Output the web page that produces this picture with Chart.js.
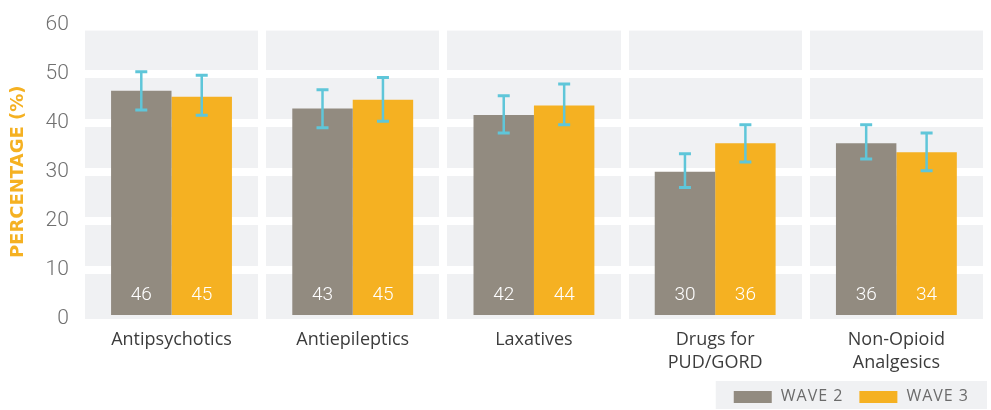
<!DOCTYPE html>
<html lang="en">
<head>
    <meta charset="UTF-8">
    <title>Medication use by wave</title>
    <script src="https://cdn.jsdelivr.net/npm/chart.js"></script>
    <style>
        body { margin: 0; background: #ffffff; }
    </style>
</head>
<body>
    <canvas id="medChart" width="991" height="410"></canvas>

    <script>
        const categories = ["Antipsychotics", "Antiepileptics", "Laxatives", ["Drugs for", "PUD/GORD"], ["Non-Opioid", "Analgesics"]];
        const wave2 = [46.5, 42.9, 41.6, 30.0, 35.8];
        const wave3 = [45.3, 44.7, 43.5, 35.8, 34.0];
        const wave2Labels = [46, 43, 42, 30, 36];
        const wave3Labels = [45, 45, 44, 36, 34];
        const wave2Low = [42.6, 39.0, 37.9, 26.8, 32.6];
        const wave2High = [50.4, 46.7, 45.5, 33.7, 39.6];
        const wave3Low = [41.5, 40.3, 39.6, 32.0, 30.2];
        const wave3High = [49.7, 49.2, 47.9, 39.6, 37.9];

        const GREY = "#928b80";
        const YELLOW = "#f5b122";
        const ERR = "#5fc6d9";
        const PANEL = "#f0f1f3";

        // grey plot background
        const backdrop = {
            id: "backdrop",
            beforeDraw(chart) {
                const { ctx, chartArea } = chart;
                ctx.save();
                ctx.fillStyle = PANEL;
                ctx.fillRect(chartArea.left, chartArea.top + 6, chartArea.right - chartArea.left, chartArea.bottom - chartArea.top - 6);
                ctx.restore();
            }
        };

        // legend in a grey box, bottom right, drawn from the datasets
        const boxLegend = {
            id: "boxLegend",
            afterDraw(chart) {
                const { ctx } = chart;
                const sets = chart.data.datasets;
                ctx.save();
                ctx.font = "16px 'Open Sans'";
                ctx.letterSpacing = "1px";
                const swatch = 38, gap = 9, between = 16, pad = 18;
                const widths = sets.map(s => swatch + gap + ctx.measureText(s.label).width);
                const total = widths.reduce((a, b) => a + b, 0) + between * (sets.length - 1) + pad * 2;
                const right = chart.width - 4;
                const top = 381, h = 28;
                ctx.fillStyle = PANEL;
                ctx.fillRect(right - total, top, total, h);
                let x = right - total + pad;
                ctx.textBaseline = "middle";
                sets.forEach((s, i) => {
                    ctx.fillStyle = s.backgroundColor;
                    ctx.fillRect(x, top + 10, swatch, 12);
                    ctx.fillStyle = "#6b6b6b";
                    ctx.fillText(s.label, x + swatch + gap, top + h / 2 + 1);
                    x += widths[i] + between;
                });
                ctx.restore();
            }
        };

        const errorBars = {
            id: "errorBars",
            afterDatasetsDraw(chart) {
                const { ctx } = chart;
                const y = chart.scales.y;
                const ranges = [[wave2Low, wave2High], [wave3Low, wave3High]];
                ctx.save();
                ctx.strokeStyle = ERR;
                ranges.forEach((r, di) => {
                    chart.getDatasetMeta(di).data.forEach((bar, i) => {
                        const top = y.getPixelForValue(r[1][i]);
                        const bot = y.getPixelForValue(r[0][i]);
                        ctx.lineWidth = 2.5;
                        ctx.beginPath();
                        ctx.moveTo(bar.x, top);
                        ctx.lineTo(bar.x, bot);
                        ctx.stroke();
                        ctx.lineWidth = 3;
                        ctx.beginPath();
                        ctx.moveTo(bar.x - 6, top);
                        ctx.lineTo(bar.x + 6, top);
                        ctx.moveTo(bar.x - 6, bot);
                        ctx.lineTo(bar.x + 6, bot);
                        ctx.stroke();
                    });
                });
                // value labels inside bars
                ctx.fillStyle = "#ffffff";
                ctx.font = "300 19px Roboto";
                ctx.textAlign = "center";
                ctx.textBaseline = "middle";
                [wave2Labels, wave3Labels].forEach((labels, di) => {
                    chart.getDatasetMeta(di).data.forEach((bar, i) => {
                        ctx.fillText(labels[i], bar.x, bar.base - 20);
                    });
                });
                ctx.restore();
            }
        };

        new Chart(document.getElementById("medChart"), {
            type: "bar",
            data: {
                labels: categories,
                datasets: [
                    { label: "WAVE 2", data: wave2, backgroundColor: GREY },
                    { label: "WAVE 3", data: wave3, backgroundColor: YELLOW }
                ]
            },
            options: {
                responsive: false,
                animation: false,
                devicePixelRatio: 1,
                layout: { padding: { top: 0, right: 4, left: 8, bottom: 26 } },
                datasets: { bar: { categoryPercentage: 0.667, barPercentage: 1 } },
                scales: {
                    x: {
                        grid: { color: "#ffffff", lineWidth: 8, drawTicks: false },
                        border: { display: false },
                        ticks: { color: "#3c3c3c", font: { family: "Open Sans", size: 18, lineHeight: 1.25 }, padding: 10, maxRotation: 0 }
                    },
                    y: {
                        min: 0, max: 60,
                        ticks: { stepSize: 10, color: "#707070", font: { family: "Roboto", size: 21, weight: 300 }, padding: 12 },
                        grid: { color: ctx => ctx.tick && ctx.tick.value === 0 ? "rgba(0,0,0,0)" : "#ffffff", lineWidth: 8, drawTicks: false },
                        border: { display: false },
                        title: { display: true, text: "PERCENTAGE (%)", color: YELLOW, font: { family: "DejaVu Sans", size: 18, weight: "bold" }, padding: { top: 0, bottom: 4 } }
                    }
                },
                plugins: {
                    legend: { display: false },
                    tooltip: { enabled: false }
                }
            },
            plugins: [backdrop, errorBars, boxLegend]
        });
    </script>
</body>
</html>
